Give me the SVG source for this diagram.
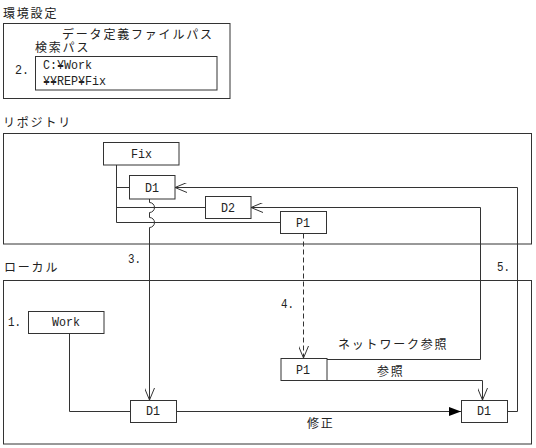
<svg xmlns="http://www.w3.org/2000/svg" width="536" height="448" viewBox="0 0 536 448">
<style>
.bg{fill:#fff}
.box{fill:#fff;stroke:#333;stroke-width:1}
.frame{fill:none;stroke:#333;stroke-width:1}
.ln{fill:none;stroke:#333;stroke-width:1}
.dash{fill:none;stroke:#333;stroke-width:1;stroke-dasharray:5,3}
.jp{font-family:"Noto Sans CJK JP","Noto Sans",sans-serif;font-size:12px;letter-spacing:1.8px;fill:#222}
.mo{font-family:"Liberation Mono","DejaVu Sans Mono",monospace;font-size:13.5px;fill:#222}
</style>
<defs>
<marker id="open" viewBox="0 0 12 10" refX="12" refY="5" markerWidth="12" markerHeight="10" markerUnits="userSpaceOnUse" orient="auto">
<path d="M0,0 L12,5 L0,10" fill="none" stroke="#333" stroke-width="1"/>
</marker>
<marker id="filled" viewBox="0 0 12 9" refX="12" refY="4.5" markerWidth="12" markerHeight="9" markerUnits="userSpaceOnUse" orient="auto">
<path d="M0,0 L12,4.5 L0,9 z" fill="#000"/>
</marker>
</defs>
<rect class="bg" x="0" y="0" width="536" height="448"/>

<g id="env">
<text class="jp" x="3" y="18">環境設定</text>
<rect class="frame" x="3.5" y="23.5" width="226.5" height="75"/>
<text class="jp" x="62" y="39">データ定義ファイルパス</text>
<text class="jp" x="35" y="52">検索パス</text>
<rect class="frame" x="35.5" y="56.5" width="181.5" height="33.5"/>
<text class="mo" x="15" y="74" textLength="14" lengthAdjust="spacingAndGlyphs">2.</text>
<text class="mo" x="43" y="69" textLength="49" lengthAdjust="spacingAndGlyphs">C:¥Work</text>
<text class="mo" x="43" y="85" textLength="63" lengthAdjust="spacingAndGlyphs">¥¥REP¥Fix</text>
</g>

<g id="repository">
<text class="jp" x="3" y="127">リポジトリ</text>
<rect class="frame" x="3.5" y="133.5" width="528" height="110.5"/>
</g>

<g id="local">
<text class="jp" x="4" y="272">ローカル</text>
<rect class="frame" x="3.5" y="280.5" width="528" height="163.5"/>
</g>

<g id="connectors">
<path class="ln" d="M116.5,165 L116.5,222.5"/>
<path class="ln" d="M116.5,187.5 L129.5,187.5"/>
<path class="ln" d="M116.5,207.5 L205.5,207.5"/>
<path class="ln" stroke="#000" d="M116.5,222.5 L280.5,222.5"/>
<path class="ln" marker-end="url(#open)" d="M149.5,199 L149.5,202.5 A5,5 0 0 1 149.5,212.5 L149.5,217.5 A5,5 0 0 1 149.5,227.5 L149.5,400"/>
<path class="dash" marker-end="url(#open)" d="M303.5,233.5 L303.5,358"/>
<path class="ln" d="M69.5,333 L69.5,411.5 L130,411.5"/>
<path class="ln" marker-end="url(#filled)" d="M176.5,411.5 L461,411.5"/>
<path class="ln" marker-end="url(#open)" d="M327,359.5 L480.5,359.5 L480.5,207.5 L251,207.5"/>
<path class="ln" marker-end="url(#open)" d="M327,380.5 L482.5,380.5 L482.5,400"/>
<path class="ln" stroke="#000" marker-end="url(#open)" d="M507,411.5 L517.5,411.5 L517.5,187.5 L175,187.5"/>
<text class="mo" x="128" y="263" textLength="13" lengthAdjust="spacingAndGlyphs">3.</text>
<text class="mo" x="281" y="308" textLength="13" lengthAdjust="spacingAndGlyphs">4.</text>
<text class="mo" x="497" y="271" textLength="13" lengthAdjust="spacingAndGlyphs">5.</text>
<text class="mo" x="8" y="326" textLength="13" lengthAdjust="spacingAndGlyphs">1.</text>
<text class="jp" x="338" y="349">ネットワーク参照</text>
<text class="jp" x="377" y="376">参照</text>
<text class="jp" x="307" y="428">修正</text>
</g>

<g id="fix">
<rect class="box" x="103.5" y="142.5" width="75.5" height="22.5"/>
<text class="mo" x="131" y="158" textLength="21" lengthAdjust="spacingAndGlyphs">Fix</text>
</g>
<g id="repo-d1">
<rect class="box" x="129.5" y="175.5" width="45.5" height="23.5"/>
<text class="mo" x="145" y="192" textLength="14" lengthAdjust="spacingAndGlyphs">D1</text>
</g>
<g id="repo-d2">
<rect class="box" x="205.5" y="196.5" width="45.5" height="22"/>
<text class="mo" x="221" y="212" textLength="14" lengthAdjust="spacingAndGlyphs">D2</text>
</g>
<g id="repo-p1">
<rect class="box" x="280.5" y="211.5" width="46" height="22"/>
<text class="mo" x="296" y="227" textLength="14" lengthAdjust="spacingAndGlyphs">P1</text>
</g>
<g id="work">
<rect class="box" x="28.5" y="311.5" width="75.5" height="22"/>
<text class="mo" x="52" y="326" textLength="28" lengthAdjust="spacingAndGlyphs">Work</text>
</g>
<g id="local-d1">
<rect class="box" x="130.5" y="400.5" width="46" height="22"/>
<text class="mo" x="146" y="415" textLength="14" lengthAdjust="spacingAndGlyphs">D1</text>
</g>
<g id="local-p1">
<rect class="box" x="281" y="358.5" width="46" height="22"/>
<text class="mo" x="296" y="374" textLength="14" lengthAdjust="spacingAndGlyphs">P1</text>
</g>
<g id="local-d1-2">
<rect class="box" x="461.5" y="400.5" width="46" height="22"/>
<text class="mo" x="477" y="415" textLength="14" lengthAdjust="spacingAndGlyphs">D1</text>
</g>
</svg>
